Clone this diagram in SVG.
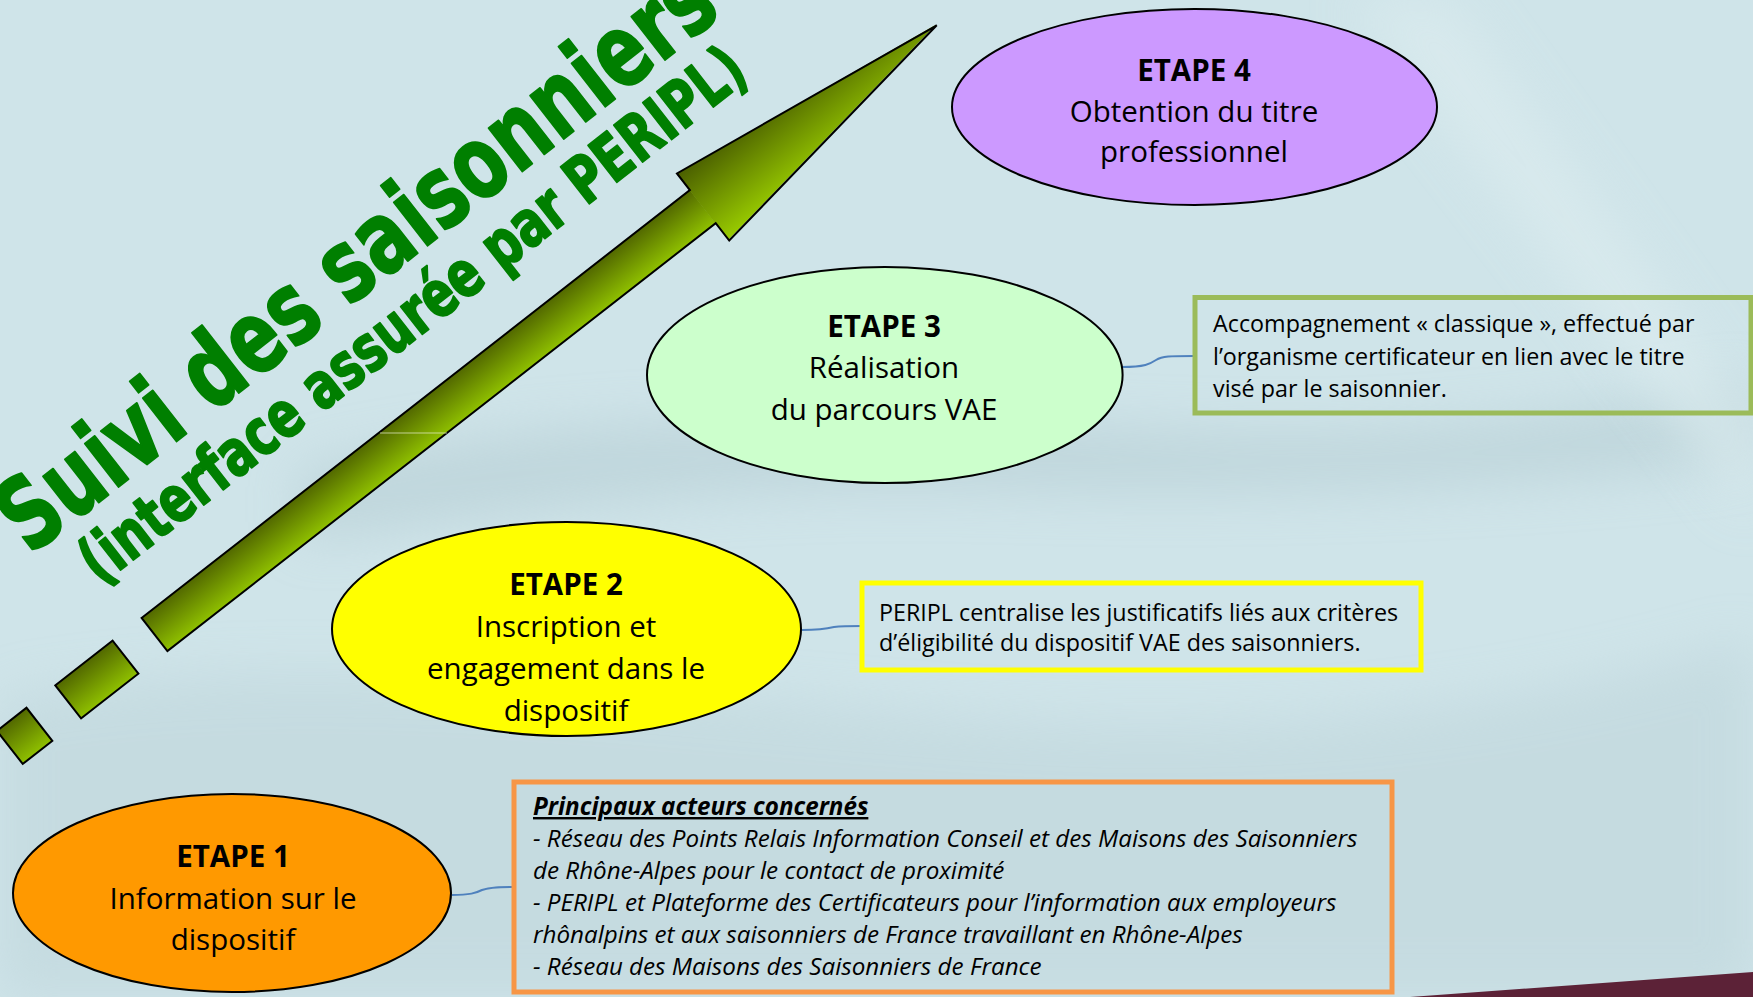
<svg xmlns="http://www.w3.org/2000/svg" width="1753" height="997" viewBox="0 0 1753 997">
<defs>
<style>
.ell{stroke:#000;stroke-width:2}
.et{font-family:"Open Sans","DejaVu Sans",sans-serif;font-size:29.5px;fill:#000;text-anchor:middle}
.b{font-weight:bold}
.bx{fill:none;stroke-width:5}
.bt{font-family:"Open Sans","DejaVu Sans",sans-serif;font-size:23.3px;fill:#000}
.it{font-style:italic;font-size:24.2px}
.con{fill:none;stroke:#4F81BD;stroke-width:2}
.ttl{font-family:"DejaVu Sans","Liberation Sans",sans-serif;font-weight:bold;fill:#007F00;stroke:#007F00;stroke-width:2;stroke-linejoin:round}
.arr{stroke:#000;stroke-width:2;stroke-linejoin:miter}
</style>
<linearGradient id="gShaft" gradientUnits="userSpaceOnUse" x1="0" y1="-21" x2="0" y2="21">
<stop offset="0" stop-color="#526800"/><stop offset="1" stop-color="#8fc000"/>
</linearGradient>
<linearGradient id="gHead" gradientUnits="userSpaceOnUse" x1="0" y1="-42" x2="0" y2="42">
<stop offset="0" stop-color="#4a5e00"/><stop offset="1" stop-color="#99cc00"/>
</linearGradient>
<filter id="blur" x="-20%" y="-50%" width="140%" height="200%"><feGaussianBlur stdDeviation="25"/></filter>
</defs>

<g id="background">
<rect x="0" y="0" width="1753" height="997" fill="#cfe4e9"/>
<path d="M300,470 C600,400 900,420 1200,430 C1450,440 1650,400 1753,380 L1753,460 C1600,480 1300,500 1000,490 C700,480 500,520 300,540 Z" fill="#b6ced4" opacity="0.6" filter="url(#blur)"/>
<path d="M0,700 C300,640 700,700 1000,720 C1300,740 1550,700 1753,640 L1753,997 L0,997 Z" fill="#bfd6db" opacity="0.6" filter="url(#blur)"/>
<path d="M1350,0 L1450,0 L1753,420 L1753,520 Z" fill="#dcecef" opacity="0.7" filter="url(#blur)"/>
<path d="M1410,997 L1753,972 L1753,997 Z" fill="#5c2237"/>
</g>

<g id="arrow" transform="translate(154.5,634.5) rotate(-37.97)">
<rect x="-183.5" y="-21" width="37.5" height="42" fill="url(#gShaft)" class="arr"/>
<rect x="-109.5" y="-21" width="72.7" height="42" fill="url(#gShaft)" class="arr"/>
<path d="M0,-21 L695.5,-21 L695.5,21 L0,21 Z" fill="url(#gShaft)"/>
<path d="M695,-42 L991,0 L695,42 Z" fill="url(#gHead)"/>
<path d="M0,-21 L695.5,-21 L695.5,-42 L991.5,1 L695.5,43 L695.5,21 L0,21 Z" fill="none" class="arr"/>
</g>
<line x1="380" y1="433" x2="447" y2="433" stroke="#e8f0d0" stroke-width="1" opacity="0.7"/>

<g id="title">
<text class="ttl" transform="translate(30,556) rotate(-38)" font-size="100" textLength="880" lengthAdjust="spacingAndGlyphs">Suivi des saisonniers</text>
<text class="ttl" transform="translate(100,586) rotate(-38)" font-size="64" textLength="826" lengthAdjust="spacingAndGlyphs">(interface assurée par PERIPL)</text>
</g>

<g id="connectors">
<path class="con" d="M1122,367 C1145,367 1150,364 1156,360 C1162,356 1170,356 1194,356"/>
<path class="con" d="M802,630 C820,630 826,629 834,627 C842,626 850,626 862,626"/>
<path class="con" d="M452,895 C470,895 476,893 482,890 C490,887 500,887 514,887"/>
</g>

<g id="etape4">
<ellipse class="ell" cx="1194.5" cy="107" rx="242.5" ry="98" fill="#CC99FF"/>
<text class="et b" x="1194" y="81">ETAPE 4</text>
<text class="et" x="1194" y="122">Obtention du titre</text>
<text class="et" x="1194" y="162">professionnel</text>
</g>

<g id="etape3">
<ellipse class="ell" cx="884.8" cy="375" rx="237.8" ry="108" fill="#CCFFCC"/>
<text class="et b" x="884" y="337">ETAPE 3</text>
<text class="et" x="884" y="378">Réalisation</text>
<text class="et" x="884" y="420">du parcours VAE</text>
</g>

<g id="etape2">
<ellipse class="ell" cx="566.5" cy="629" rx="234.5" ry="107" fill="#FFFF00"/>
<text class="et b" x="566" y="595">ETAPE 2</text>
<text class="et" x="566" y="637">Inscription et</text>
<text class="et" x="566" y="679">engagement dans le</text>
<text class="et" x="566" y="721">dispositif</text>
</g>

<g id="etape1">
<ellipse class="ell" cx="232" cy="893" rx="219" ry="99" fill="#FF9900"/>
<text class="et b" x="233" y="867">ETAPE 1</text>
<text class="et" x="233" y="909">Information sur le</text>
<text class="et" x="233" y="950">dispositif</text>
</g>

<g id="note3">
<rect class="bx" x="1195" y="297.5" width="556" height="115.5" stroke="#9BBB59"/>
<text class="bt" x="1213" y="332">Accompagnement « classique », effectué par</text>
<text class="bt" x="1213" y="365">l’organisme certificateur en lien avec le titre</text>
<text class="bt" x="1213" y="397">visé par le saisonnier.</text>
</g>

<g id="note2">
<rect class="bx" x="862" y="583" width="559" height="87" stroke="#FFFF00"/>
<text class="bt" x="879" y="621">PERIPL centralise les justificatifs liés aux critères</text>
<text class="bt" x="879" y="651">d’éligibilité du dispositif VAE des saisonniers.</text>
</g>

<g id="note1">
<rect class="bx" x="514" y="782" width="878" height="210" stroke="#F79646"/>
<text class="bt it b" x="533" y="815" text-decoration="underline">Principaux acteurs concernés</text>
<text class="bt it" x="533" y="847">- Réseau des Points Relais Information Conseil et des Maisons des Saisonniers</text>
<text class="bt it" x="533" y="879">de Rhône-Alpes pour le contact de proximité</text>
<text class="bt it" x="533" y="911">- PERIPL et Plateforme des Certificateurs pour l’information aux employeurs</text>
<text class="bt it" x="533" y="943">rhônalpins et aux saisonniers de France travaillant en Rhône-Alpes</text>
<text class="bt it" x="533" y="975">- Réseau des Maisons des Saisonniers de France</text>
</g>
</svg>
